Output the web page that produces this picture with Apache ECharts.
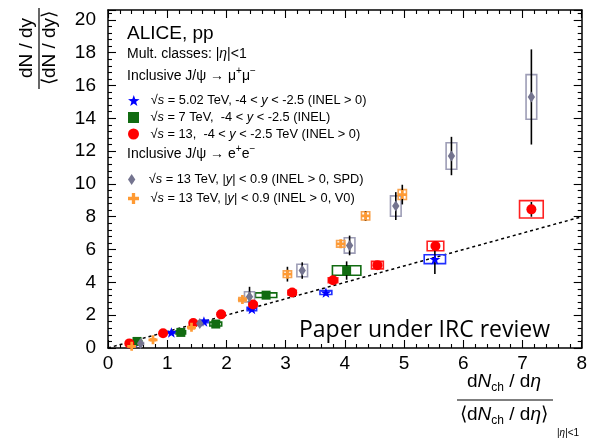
<!DOCTYPE html>
<html>
<head>
<meta charset="utf-8">
<script src="https://cdn.jsdelivr.net/npm/echarts@6/dist/echarts.min.js"></script>
<style>
  html, body { margin: 0; padding: 0; background: #fff; }
  #chart { width: 590px; height: 439px; }
</style>
</head>
<body>
<div id="chart"></div>
<script>
const FONT = '"Liberation Sans", Arial, sans-serif';

// points are [x, y]; syst = [half width in x, half height in y]; stat = half length of the error bar
const blueXY = [[0.44, 0.35], [1.07, 0.95], [1.62, 1.62], [2.43, 2.38], [3.68, 3.38], [5.52, 5.41]];
const blueSyst = [[0.05, 0.04], [0.06, 0.06], [0.07, 0.08], [0.08, 0.1], [0.1, 0.12], [0.18, 0.27]];
const blueStat = [0.04, 0.05, 0.07, 0.1, 0.15, 0.9];

const greenXY = [[0.49, 0.4], [1.23, 0.95], [1.82, 1.46], [2.67, 3.22], [4.03, 4.72]];
const greenSyst = [[0.08, 0.05], [0.08, 0.1], [0.1, 0.12], [0.18, 0.14], [0.24, 0.29]];
const greenStat = [0.05, 0.05, 0.08, 0.1, 0.56];

const redXY = [[0.36, 0.28], [0.93, 0.9], [1.44, 1.52], [1.91, 2.05], [2.45, 2.65], [3.11, 3.38],
  [3.8, 4.13], [4.55, 5.05], [5.53, 6.22], [7.15, 8.45]];
const redSyst = [[0.03, 0.03], [0.04, 0.05], [0.05, 0.08], [0.06, 0.1], [0.06, 0.12], [0.07, 0.14],
  [0.08, 0.15], [0.1, 0.23], [0.14, 0.29], [0.2, 0.53]];
const redStat = [0.03, 0.04, 0.05, 0.05, 0.06, 0.08, 0.1, 0.15, 0.3, 0.45];

const grayXY = [[0.55, 0.28], [1.55, 1.5], [2.39, 3.12], [3.28, 4.72], [4.08, 6.25], [4.86, 8.65], [5.8, 11.7], [7.15, 15.3]];
const graySyst = [[0.05, 0.05], [0.06, 0.12], [0.085, 0.31], [0.09, 0.38], [0.09, 0.47], [0.09, 0.62], [0.09, 0.81], [0.09, 1.36]];
const grayStat = [0.05, 0.15, 0.61, 0.5, 0.6, 0.85, 1.17, 2.9];

const orangeXY = [[0.4, 0.1], [0.76, 0.5], [1.41, 1.26], [2.27, 2.95], [3.03, 4.5], [3.93, 6.35], [4.35, 8.05], [4.97, 9.35]];
const orangeSyst = [[0.04, 0.04], [0.04, 0.06], [0.05, 0.1], [0.06, 0.12], [0.07, 0.2], [0.07, 0.2], [0.07, 0.25], [0.07, 0.3]];
const orangeStat = [0.05, 0.05, 0.08, 0.1, 0.45, 0.2, 0.3, 0.6];

const refLine = [[0, 0], [8, 8]];

const xTicks = { min: 0, max: 8, interval: 1 };
const yTicks = { min: 0, max: 20.6, interval: 2 };

const STAR = 'path://M10,0L12.35,6.76L19.51,6.91L13.8,11.24L15.88,18.09L10,14L4.12,18.09L6.2,11.24L0.49,6.91L7.65,6.76Z';
const SQUARE = 'path://M0,0H10V10H0Z';
const DIAMOND = 'path://M4,0L8,6L4,12L0,6Z';
const CROSS = 'path://M3.5,0H6.5V3.5H10V6.5H6.5V10H3.5V6.5H0V3.5H3.5Z';

const groups = [
  { name: 'b', xy: blueXY, syst: blueSyst, stat: blueStat, color: '#0000ff', box: '#2030ff', symbol: STAR, size: 11,
    label: '{n|√}{i|s}{n| = 5.02 TeV, -4 < }{i|y}{n| < -2.5 (INEL > 0)}', top: 94 },
  { name: 'g', xy: greenXY, syst: greenSyst, stat: greenStat, color: '#116b11', box: '#116b11', symbol: SQUARE, size: 9,
    label: '{n|√}{i|s}{n| = 7 TeV,  -4 < }{i|y}{n| < -2.5 (INEL)}', top: 111 },
  { name: 'r', xy: redXY, syst: redSyst, stat: redStat, color: '#ff0000', box: '#ff2020', symbol: 'circle', size: 10,
    label: '{n|√}{i|s}{n| = 13,  -4 < }{i|y}{n| < -2.5 TeV (INEL > 0)}', top: 127.5 },
  { name: 'gr', xy: grayXY, syst: graySyst, stat: grayStat, color: '#74748f', box: '#9d9db6', symbol: DIAMOND, size: 11,
    label: '{n|√}{i|s}{n| = 13 TeV, |}{i|y}{n|| < 0.9 (INEL > 0, SPD)}', top: 173 },
  { name: 'o', xy: orangeXY, syst: orangeSyst, stat: orangeStat, color: '#ff9a33', box: '#f8a24e', symbol: CROSS, size: 9,
    label: '{n|√}{i|s}{n| = 13 TeV, |}{i|y}{n|| < 0.9 (INEL > 0, V0)}', top: 192 }
];

function boxSeries(g) {
  return {
    type: 'custom', name: g.name + '-syst', silent: true, z: 2,
    data: g.xy.map((p, i) => [p[0], p[1], g.syst[i][0], g.syst[i][1]]),
    renderItem(params, api) {
      const x = api.value(0), y = api.value(1), dx = api.value(2), dy = api.value(3);
      const a = api.coord([x - dx, y + dy]);
      const b = api.coord([x + dx, y - dy]);
      return {
        type: 'rect',
        shape: { x: a[0], y: a[1], width: b[0] - a[0], height: b[1] - a[1] },
        style: { fill: 'none', stroke: g.box, lineWidth: 1.6 }
      };
    }
  };
}

function statSeries(g) {
  return {
    type: 'custom', name: g.name + '-stat', silent: true, z: 3,
    data: g.xy.map((p, i) => [p[0], p[1], g.stat[i]]),
    renderItem(params, api) {
      const x = api.value(0), y = api.value(1), e = api.value(2);
      const a = api.coord([x, y + e]);
      const b = api.coord([x, y - e]);
      return {
        type: 'line',
        shape: { x1: a[0], y1: a[1], x2: b[0], y2: b[1] },
        style: { stroke: '#000', lineWidth: 1.6 }
      };
    }
  };
}

function markSeries(g) {
  return {
    type: 'scatter', name: g.name, z: 6,
    symbol: g.symbol, symbolSize: g.size, symbolKeepAspect: true,
    itemStyle: { color: g.color, opacity: 1 },
    data: g.xy
  };
}

const legRich = {
  n: { fontSize: 12.8, fontFamily: FONT, color: '#000' },
  i: { fontSize: 12.8, fontFamily: FONT, fontStyle: 'italic', color: '#000' }
};

const axisLine = { show: true, onZero: false, lineStyle: { color: '#000', width: 1.5 } };
const axisTick = { show: true, inside: true, length: 8, lineStyle: { color: '#000', width: 1.1 } };
const minorTick = { show: true, splitNumber: 5, length: 4, lineStyle: { color: '#000', width: 1.1 } };

const chart = echarts.init(document.getElementById('chart'));

const txt = (x, y, text, size, extra) => ({
  type: 'text', x: x, y: y, z: 10,
  style: Object.assign({ text: text, font: size + 'px ' + FONT, fill: '#000', textVerticalAlign: 'middle' }, extra || {})
});

const titleRich = {
  r: { fontSize: 19, fontFamily: FONT, lineHeight: 24, color: '#000' },
  i: { fontSize: 19, fontFamily: FONT, fontStyle: 'italic', lineHeight: 24, color: '#000' },
  s: { fontSize: 12, fontFamily: FONT, lineHeight: 14, verticalAlign: 'bottom', color: '#000' },
  u: { fontSize: 10, fontFamily: FONT, lineHeight: 12, verticalAlign: 'top', color: '#000' },
  h: { fontSize: 14, fontFamily: FONT, lineHeight: 19, color: '#000' },
  hi: { fontSize: 14, fontFamily: FONT, fontStyle: 'italic', lineHeight: 19, color: '#000' }
};

chart.setOption({
  animation: false,
  backgroundColor: '#fff',
  grid: { left: 108, right: 3, top: 10, bottom: 91 },
  xAxis: [
    { type: 'value', position: 'bottom', min: xTicks.min, max: xTicks.max, interval: xTicks.interval,
      axisLine, axisTick, minorTick, splitLine: { show: false },
      axisLabel: { color: '#000', fontSize: 19, fontFamily: FONT, margin: 6 } },
    { type: 'value', position: 'top', min: xTicks.min, max: xTicks.max, interval: xTicks.interval,
      axisLine, axisTick, minorTick, splitLine: { show: false }, axisLabel: { show: false } }
  ],
  yAxis: [
    { type: 'value', position: 'left', min: yTicks.min, max: yTicks.max, interval: yTicks.interval,
      axisLine, axisTick, minorTick, splitLine: { show: false },
      axisLabel: { color: '#000', fontSize: 19, fontFamily: FONT, margin: 12, showMaxLabel: false } },
    { type: 'value', position: 'right', min: yTicks.min, max: yTicks.max, interval: yTicks.interval,
      axisLine, axisTick, minorTick, splitLine: { show: false }, axisLabel: { show: false } }
  ],
  legend: groups.map(g => ({
    data: [g.name], left: 128, top: g.top, orient: 'vertical', padding: 0,
    itemWidth: 24, itemHeight: 11, selectedMode: false,
    formatter: () => g.label,
    textStyle: { rich: legRich }
  })),
  graphic: [
    txt(127, 34, 'ALICE, pp', 19),
    {
      type: 'text', x: 127, y: 54, z: 10,
      style: { text: '{h|Mult. classes: |}{hi|η}{h||<1}', rich: titleRich, textVerticalAlign: 'middle' }
    },
    {
      type: 'text', x: 127, y: 76, z: 10,
      style: { text: '{h|Inclusive J/ψ → μ}{u|+}{h|μ}{u|−}', rich: titleRich, textVerticalAlign: 'middle' }
    },
    {
      type: 'text', x: 127, y: 154, z: 10,
      style: { text: '{h|Inclusive J/ψ → e}{u|+}{h|e}{u|−}', rich: titleRich, textVerticalAlign: 'middle' }
    },
    txt(299, 330, 'Paper under IRC review', 23, { font: '23px "Open Sans", sans-serif' }),
    // x axis title
    {
      type: 'text', x: 504, y: 382, z: 10,
      style: { text: '{r|d}{i|N}{s|ch}{r| / d}{i|η}', rich: titleRich, textAlign: 'center', textVerticalAlign: 'middle' }
    },
    { type: 'line', z: 10, shape: { x1: 457, y1: 400, x2: 553, y2: 400 }, style: { stroke: '#000', lineWidth: 1.2 } },
    {
      type: 'text', x: 504, y: 415, z: 10,
      style: { text: '{r|⟨d}{i|N}{s|ch}{r| / d}{i|η}{r|⟩}', rich: titleRich, textAlign: 'center', textVerticalAlign: 'middle' }
    },
    {
      type: 'text', x: 557, y: 433, z: 10,
      style: { text: '{a||}{b|η}{a||<1}', rich: { a: { fontSize: 10, fontFamily: FONT, color: '#000' }, b: { fontSize: 10, fontFamily: FONT, fontStyle: 'italic', color: '#000' } }, textVerticalAlign: 'middle' }
    },
    // y axis title (rotated)
    {
      type: 'text', x: 27, y: 48, rotation: Math.PI / 2, z: 10,
      style: { text: '{r|dN / dy}', rich: titleRich, textAlign: 'center', textVerticalAlign: 'middle' }
    },
    { type: 'line', z: 10, shape: { x1: 39, y1: 8, x2: 39, y2: 89 }, style: { stroke: '#000', lineWidth: 1.2 } },
    {
      type: 'text', x: 50, y: 48, rotation: Math.PI / 2, z: 10,
      style: { text: '{r|⟨dN / dy⟩}', rich: titleRich, textAlign: 'center', textVerticalAlign: 'middle' }
    }
  ],
  series: [
    ...groups.map(boxSeries),
    ...groups.map(statSeries),
    {
      type: 'line', name: 'ref', data: refLine, symbol: 'none', silent: true, z: 1,
      lineStyle: { color: '#000', width: 1.5, type: [3, 3] }
    },
    ...groups.map(markSeries)
  ]
});
</script>
</body>
</html>
